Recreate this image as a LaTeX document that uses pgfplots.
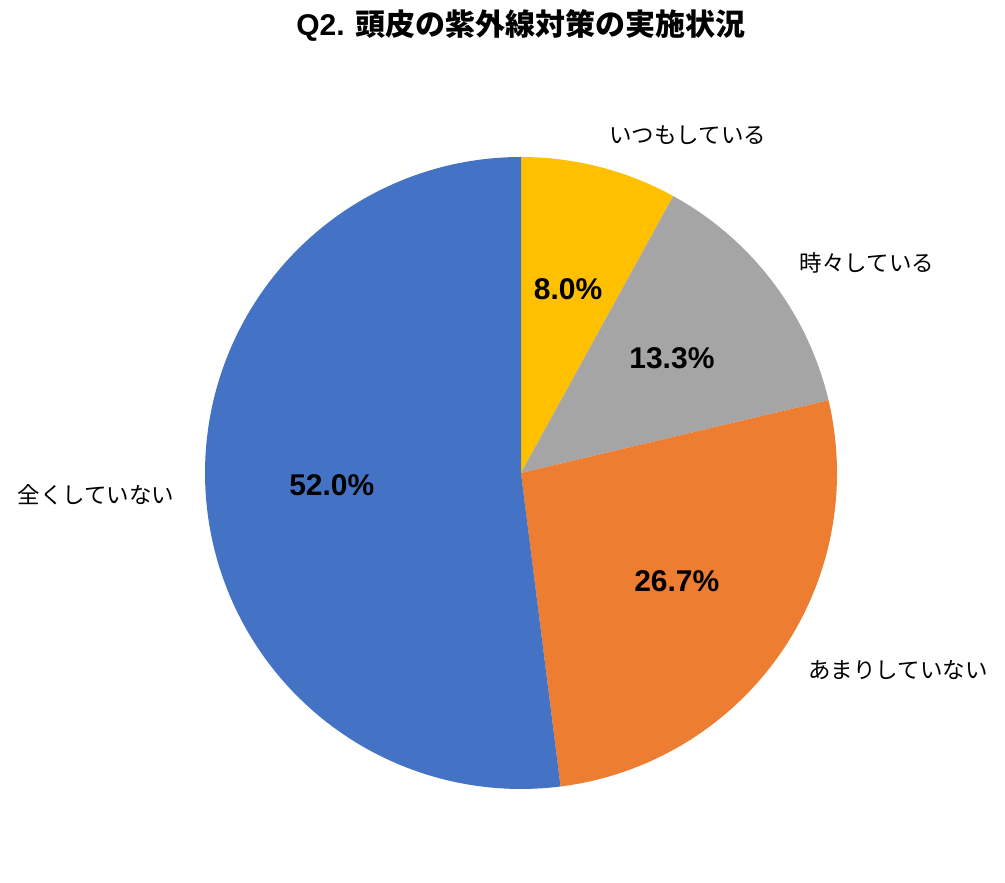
\documentclass[border=0pt]{standalone}
\usepackage{fontspec}
\setmainfont{Noto Sans CJK JP}
\newfontfamily\pctfont{Liberation Sans}
\usepackage{pgfplots}
\pgfplotsset{compat=1.18}
\definecolor{cBlue}{HTML}{4472C4}
\definecolor{cOrange}{HTML}{ED7D31}
\definecolor{cGray}{HTML}{A5A5A5}
\definecolor{cYellow}{HTML}{FFC000}
% values (%)
\def\vA{8.0}  % いつもしている
\def\vB{13.3} % 時々している
\def\vC{26.7} % あまりしていない
\def\vD{52.0} % 全くしていない
\pgfmathsetmacro\aA{90}
\pgfmathsetmacro\aB{\aA-3.6*\vA}
\pgfmathsetmacro\aC{\aB-3.6*\vB}
\pgfmathsetmacro\aD{\aC-3.6*\vC}
\pgfmathsetmacro\aE{\aD-3.6*\vD}
\pgfmathsetmacro\mA{(\aA+\aB)/2}
\pgfmathsetmacro\mB{(\aB+\aC)/2}
\pgfmathsetmacro\mC{(\aC+\aD)/2}
\pgfmathsetmacro\mD{(\aD+\aE)/2}
\begin{document}
\begin{tikzpicture}
\begin{axis}[
  scale only axis, width=1005pt, height=883pt,
  xmin=-1.6487, xmax=1.5316, ymin=-1.2975, ymax=1.4968,
  hide axis, clip=false,
]
\addplot[fill=cYellow, draw=none, domain=\aB:\aA, samples=40, variable=\t] ({cos(\t)},{sin(\t)}) -- (axis cs:0,0) -- cycle;
\addplot[fill=cGray, draw=none, domain=\aC:\aB, samples=60, variable=\t] ({cos(\t)},{sin(\t)}) -- (axis cs:0,0) -- cycle;
\addplot[fill=cOrange, draw=none, domain=\aD:\aC, samples=100, variable=\t] ({cos(\t)},{sin(\t)}) -- (axis cs:0,0) -- cycle;
\addplot[fill=cBlue, draw=none, domain=\aE:\aD, samples=160, variable=\t] ({cos(\t)},{sin(\t)}) -- (axis cs:0,0) -- cycle;
\begin{scope}[every node/.style={font=\pctfont\bfseries\fontsize{30}{34}\selectfont}]
\node at (axis cs:{0.6*cos(\mA)},{0.6*sin(\mA)}) {8.0\%};
\node at (axis cs:{0.6*cos(\mB)},{0.6*sin(\mB)}) {13.3\%};
\node at (axis cs:{0.6*cos(\mC)},{0.6*sin(\mC)}) {26.7\%};
\node at (axis cs:{0.6*cos(\mD)},{0.6*sin(\mD)}) {52.0\%};
\end{scope}
\begin{scope}[every node/.style={font=\fontsize{22.5}{26}\selectfont}]
\node at (axis cs:0.528,1.070) {いつもしている};
\node at (axis cs:1.095,0.665) {時々している};
\node at (axis cs:1.193,-0.623) {あまりしていない};
\node at (axis cs:-1.345,-0.070) {全くしていない};
\end{scope}
\node[font=\bfseries\fontsize{30}{36}\selectfont] at (axis cs:0,1.415) {{\pctfont Q2. }頭皮の紫外線対策の実施状況};
\end{axis}
\pgfresetboundingbox
\path (current axis.south west) rectangle (current axis.north east);
\end{tikzpicture}
\end{document}
